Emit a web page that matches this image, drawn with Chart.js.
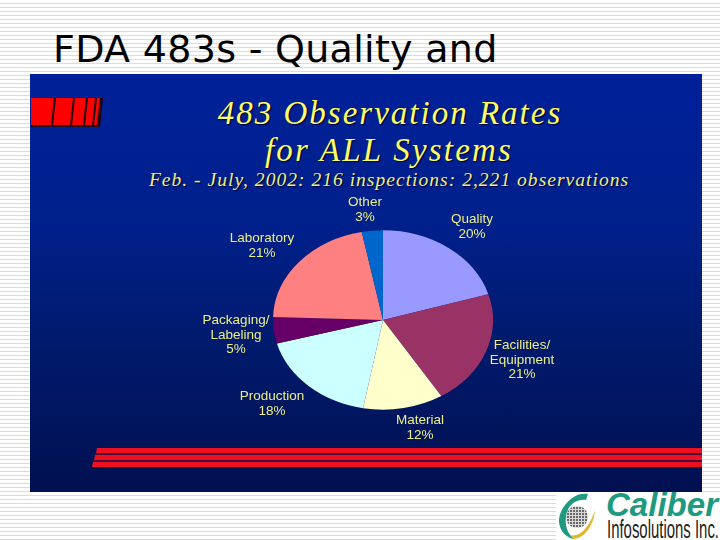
<!DOCTYPE html>
<html>
<head>
<meta charset="utf-8">
<title>FDA 483s</title>
<script src="https://cdn.jsdelivr.net/npm/chart.js@4/dist/chart.umd.min.js"></script>
<style>
  html, body { margin: 0; padding: 0; }
  #slide {
    position: relative; width: 720px; height: 540px; overflow: hidden;
    background: repeating-linear-gradient(to bottom, #fff 0, #fff 3px, #dcdcdc 3px, #dcdcdc 4px);
  }
  #slideTitle {
    position: absolute; left: 53px; top: 27px; white-space: nowrap;
    font: 38px "DejaVu Sans", sans-serif; letter-spacing: 0.3px; color: #000;
  }
  #panel {
    position: absolute; left: 30px; top: 74px; width: 672px; height: 418px;
    background: linear-gradient(to bottom, #00209a 0%, #00208c 35%, #001a6c 65%, #001050 100%);
  }
  .head {
    position: absolute; left: 0; width: 720px; text-align: center; white-space: nowrap;
    font-family: "Liberation Serif", serif; font-style: italic; color: #ffff66;
    text-shadow: 1px 1px 1px #000030;
  }
  #logoBox { position: absolute; left: 556px; top: 492px; width: 164px; height: 48px; background: #fff; }
  svg, canvas { position: absolute; left: 0; top: 0; }
</style>
</head>
<body>
<div id="slide">
  <div id="slideTitle">FDA 483s - Quality and</div>
  <div id="panel"></div>
  <div class="head" style="top:95px;left:30px;font-size:33px;letter-spacing:2px">483 Observation Rates</div>
  <div class="head" style="top:132px;left:29px;font-size:33px;letter-spacing:2.2px">for ALL Systems</div>
  <div class="head" style="top:169px;left:29px;font-size:19.5px;color:#eeee88;letter-spacing:1.03px">Feb. - July, 2002: 216 inspections: 2,221 observations</div>

  <svg width="720" height="540">
    <!-- red bars top left -->
    <polygon points="31,98 103,98 100,127 31,127" fill="#200010"/>
    <polygon points="31,98 54,98 51,125 31,125" fill="#ff0000"/>
    <polygon points="56,98 73,98 70,125 53,125" fill="#ff0000"/>
    <polygon points="75,98 86,98 83,125 72,125" fill="#ff0000"/>
    <polygon points="88,98 95,98 92,125 85,125" fill="#ff0000"/>
    <polygon points="97,98 100,98 97,125 94,125" fill="#ff0000"/>
    <!-- red stripes bottom -->
    <polygon points="97,448 702,448 702,453 96,453" fill="#ee1020"/>
    <polygon points="95,455 702,455 702,460 94,460" fill="#ee1020"/>
    <polygon points="93,462 702,462 702,467 92,467" fill="#ee1020"/>
    <rect x="95" y="453" width="607" height="2" fill="#4a0a3a"/>
    <rect x="93" y="460" width="609" height="2" fill="#4a0a3a"/>
  </svg>

  <div id="logoBox"></div>
  <svg width="720" height="540">
    <defs>
      <pattern id="globeDots" width="3" height="3" patternUnits="userSpaceOnUse">
        <rect width="3" height="3" fill="#d8d8d8"/>
        <rect width="2" height="2" fill="#6a6a6a"/>
      </pattern>
    </defs>
    <!-- logo -->
    <path d="M588,494 C572,491 558,510 559,522 C560,532 567,538 574,539 C566,532 564,522 567,512 C570,503 578,499 586,500 Z" fill="#1d9a80"/>
    <path d="M570,535 C580,538 590,526 595,510 C594,524 586,538 573,539 Z" fill="#e0b830"/>
    <circle cx="577" cy="517" r="11" fill="url(#globeDots)"/>
    <text x="606" y="516" font-family="Liberation Sans" font-weight="700" font-style="italic" font-size="33" textLength="112" lengthAdjust="spacingAndGlyphs" fill="#1d9a80">Caliber</text>
    <text x="607" y="538" font-family="Liberation Sans Narrow, Liberation Sans" font-size="25" textLength="112" lengthAdjust="spacingAndGlyphs" fill="#222">Infosolutions Inc.</text>
  </svg>

  <canvas id="pie" width="720" height="540"></canvas>
</div>

<script>
// data, labels print the rounded percentage
const categories = ['Quality', 'Facilities/\nEquipment', 'Material', 'Production', 'Packaging/\nLabeling', 'Laboratory', 'Other'];
const shares = [20.4, 20.8, 11.8, 17.9, 4.8, 21.4, 3.1];
const sliceColors = ['#9999ff', '#993366', '#ffffcc', '#ccffff', '#660066', '#ff8080', '#0066cc'];

// centre of each label block on the slide
const labelX = [472, 522, 420, 272, 236, 262, 365];
const labelY = [227, 360, 428, 404, 335, 246, 210];

// the pie on the slide is squashed, chart.js only draws circles
const squash = 0.815;
const squashPlugin = {
  id: 'squash',
  beforeDatasetsDraw(chart) {
    const ctx = chart.ctx;
    const cy = (chart.chartArea.top + chart.chartArea.bottom) / 2;
    ctx.save();
    ctx.translate(0, cy);
    ctx.scale(1, squash);
    ctx.translate(0, -cy);
  },
  afterDatasetsDraw(chart) {
    chart.ctx.restore();
  }
};

const labelPlugin = {
  id: 'sliceLabels',
  afterDraw(chart) {
    const ctx = chart.ctx;
    ctx.save();
    ctx.font = '13.5px "Liberation Sans", sans-serif';
    ctx.fillStyle = '#eeee88';
    ctx.textAlign = 'center';
    ctx.textBaseline = 'middle';
    categories.forEach((cat, i) => {
      const lines = cat.split('\n').concat(Math.round(shares[i]) + '%');
      const top = labelY[i] - (lines.length - 1) * 7.25;
      lines.forEach((line, j) => ctx.fillText(line, labelX[i], top + j * 14.5));
    });
    ctx.restore();
  }
};

new Chart(document.getElementById('pie').getContext('2d'), {
  type: 'pie',
  data: {
    labels: categories,
    datasets: [{
      data: shares,
      backgroundColor: sliceColors,
      borderWidth: 0
    }]
  },
  options: {
    responsive: false,
    animation: false,
    layout: { padding: { left: 273, right: 227, top: 210, bottom: 110 } },
    plugins: {
      legend: { display: false },
      tooltip: { enabled: false }
    }
  },
  plugins: [squashPlugin, labelPlugin]
});
</script>
</body>
</html>
